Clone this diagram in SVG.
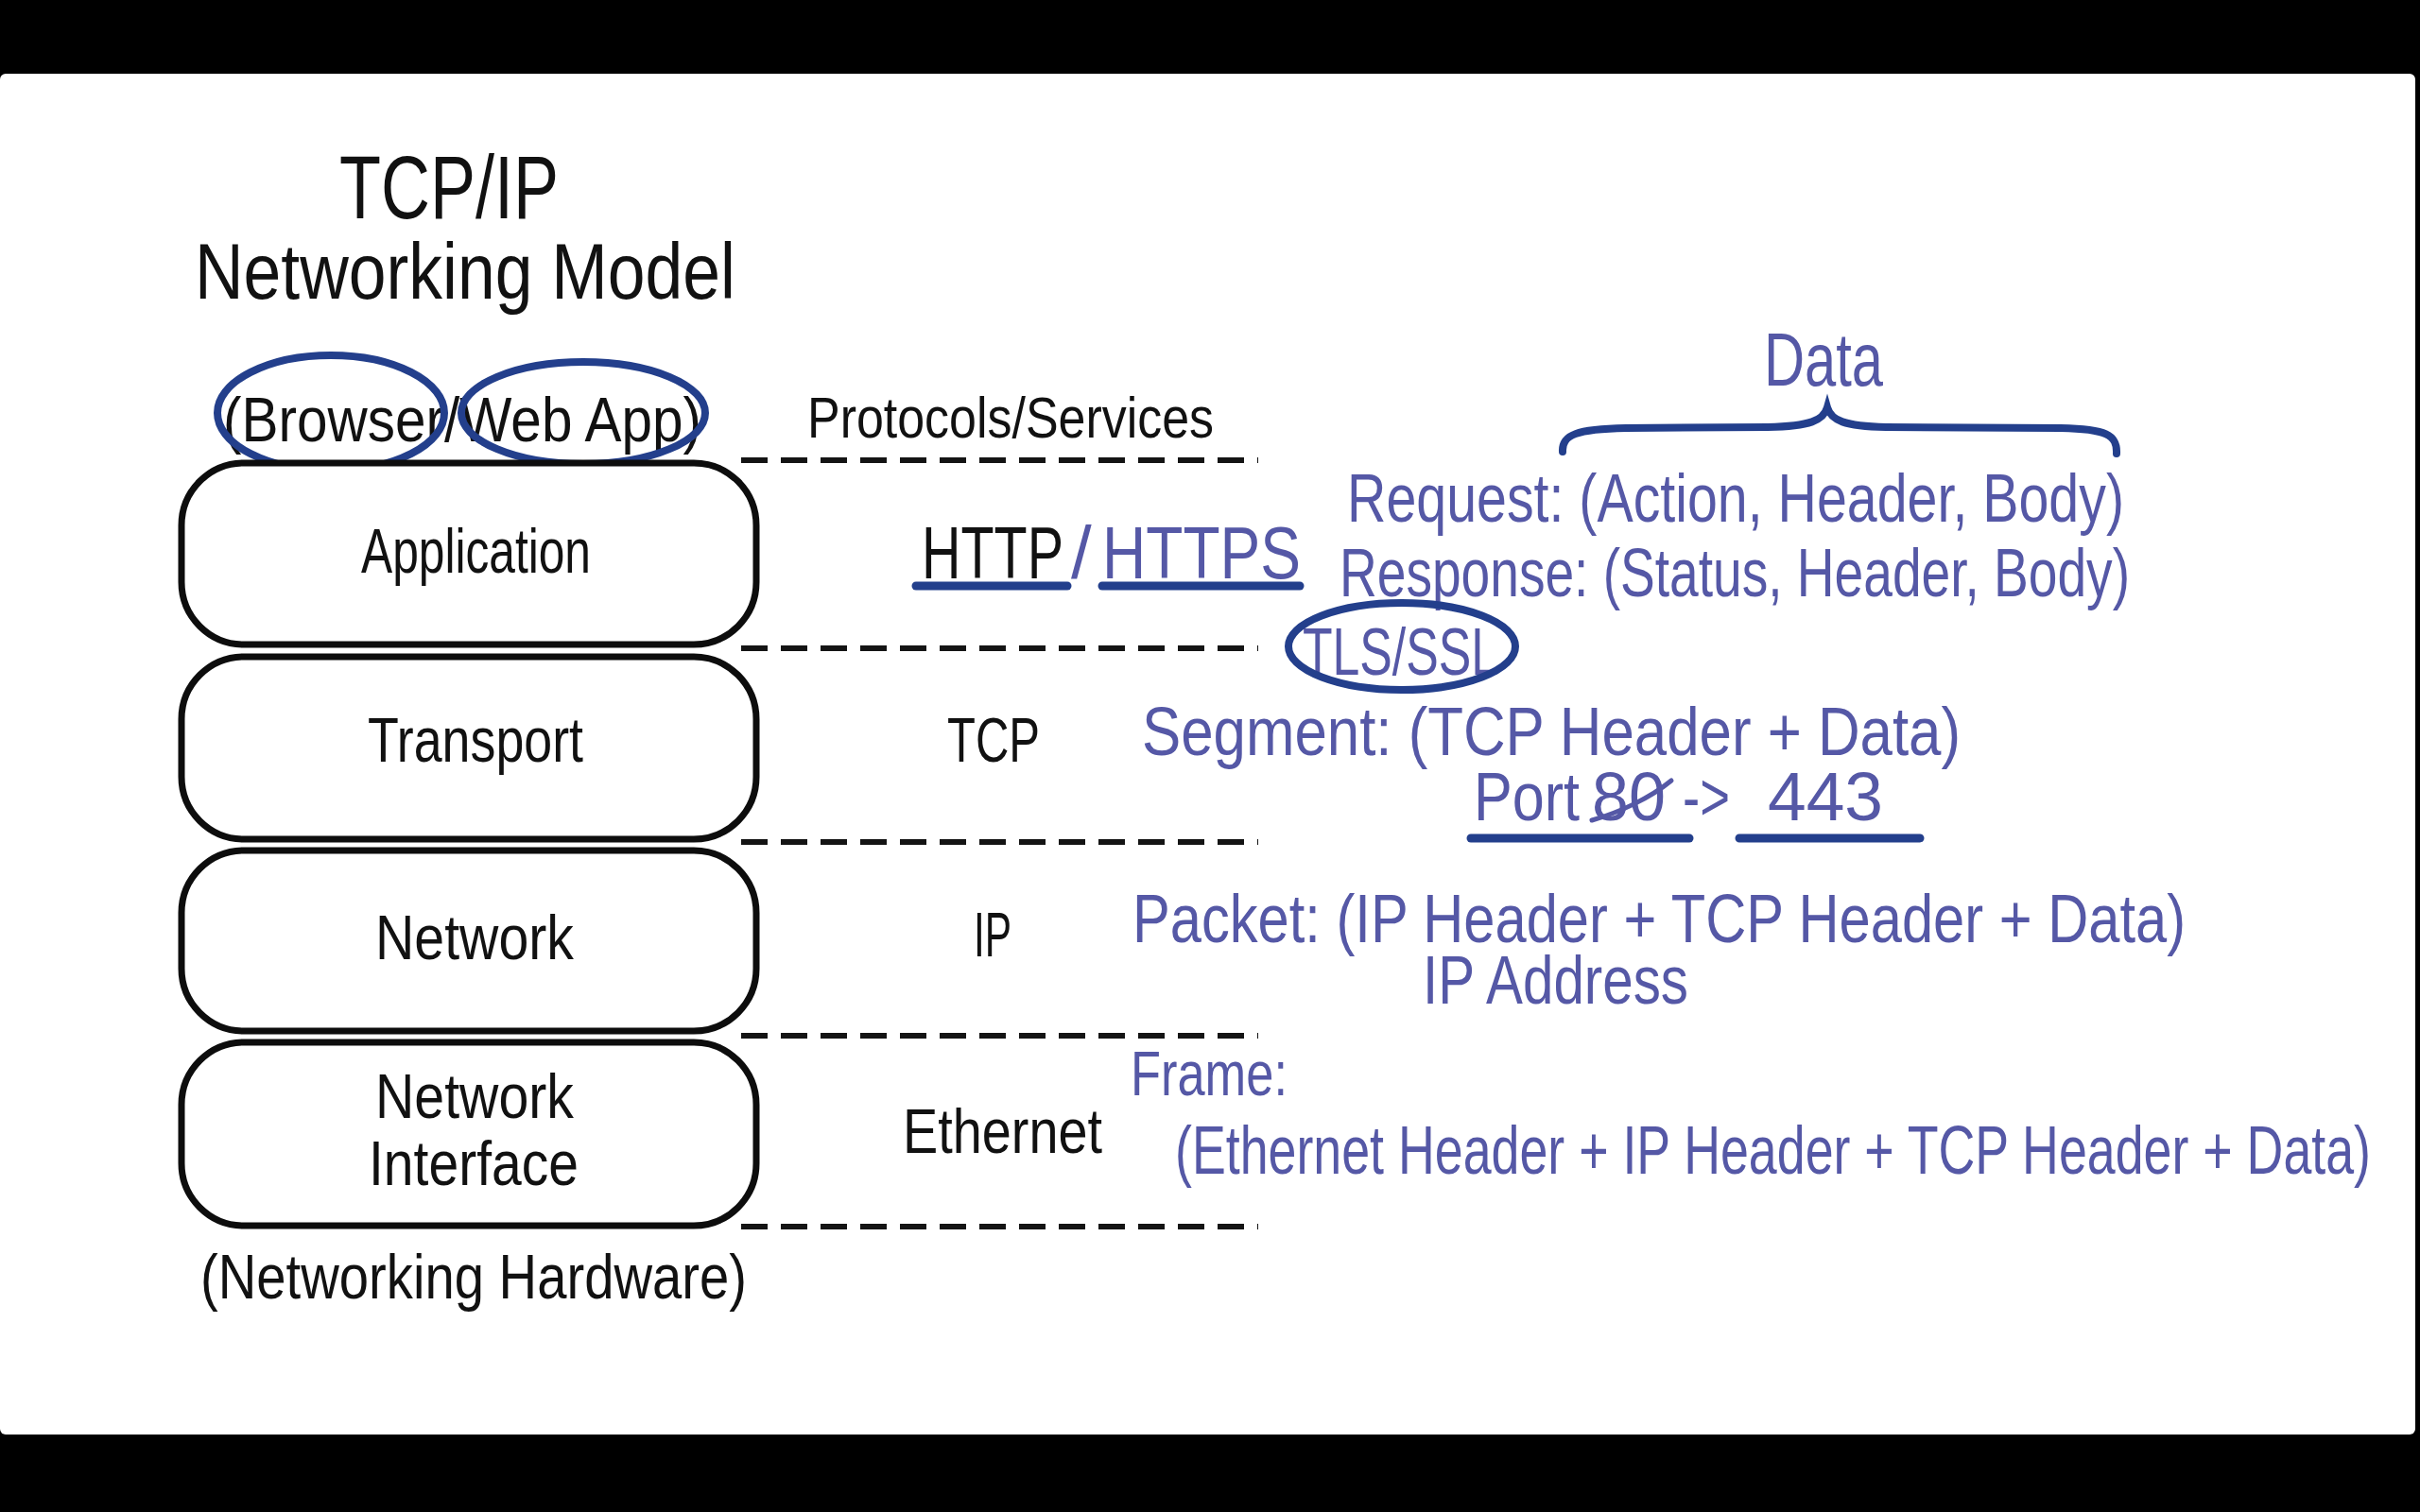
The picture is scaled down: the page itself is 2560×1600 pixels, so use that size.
<svg xmlns="http://www.w3.org/2000/svg" width="2560" height="1600" viewBox="0 0 2560 1600">
<defs>
<style>
.k{font-family:"Liberation Sans","DejaVu Sans",sans-serif;fill:#111;}
.b{font-family:"Liberation Sans","DejaVu Sans",sans-serif;fill:#5558a6;}
.box{fill:#fff;stroke:#0d0d0d;stroke-width:7;}
.sep{stroke:#141414;stroke-width:6;stroke-dasharray:28 14;fill:none;}
.ink{fill:none;stroke:#233f8c;stroke-width:8;stroke-linecap:round;}
.ul{fill:none;stroke:#233f8c;stroke-width:9;stroke-linecap:round;}
</style>
</defs>
<rect x="0" y="0" width="2560" height="1600" fill="#000"/>
<rect x="0" y="78" width="2555" height="1440" rx="6" fill="#fff"/>

<g id="title">
<text class="k" x="359" y="231" font-size="95" textLength="232" lengthAdjust="spacingAndGlyphs">TCP/IP</text>
<text class="k" x="206" y="316" font-size="84" textLength="572" lengthAdjust="spacingAndGlyphs">Networking Model</text>
</g>

<g id="clients">
<text class="k" x="236" y="467" font-size="66" textLength="506" lengthAdjust="spacingAndGlyphs">(Browser/Web App)</text>
<ellipse class="ink" cx="350" cy="437" rx="120" ry="61"/>
<ellipse class="ink" cx="617" cy="437" rx="129" ry="54"/>
</g>

<g id="protocols-header">
<text class="k" x="854" y="463" font-size="62" textLength="430" lengthAdjust="spacingAndGlyphs">Protocols/Services</text>
</g>

<g id="separators">
<line class="sep" x1="784" y1="487" x2="1331" y2="487"/>
<line class="sep" x1="784" y1="686" x2="1331" y2="686"/>
<line class="sep" x1="784" y1="891" x2="1331" y2="891"/>
<line class="sep" x1="784" y1="1096" x2="1331" y2="1096"/>
<line class="sep" x1="784" y1="1298" x2="1331" y2="1298"/>
</g>

<g id="layer-application">
<rect class="box" x="192" y="490" width="608" height="192" rx="66"/>
<text class="k" x="382" y="606" font-size="66" textLength="243" lengthAdjust="spacingAndGlyphs">Application</text>
</g>
<g id="layer-transport">
<rect class="box" x="192" y="695" width="608" height="193" rx="66"/>
<text class="k" x="389" y="806" font-size="66" textLength="228" lengthAdjust="spacingAndGlyphs">Transport</text>
</g>
<g id="layer-network">
<rect class="box" x="192" y="900" width="608" height="191" rx="66"/>
<text class="k" x="397" y="1015" font-size="66" textLength="210" lengthAdjust="spacingAndGlyphs">Network</text>
</g>
<g id="layer-network-interface">
<rect class="box" x="192" y="1103" width="608" height="194" rx="66"/>
<text class="k" x="397" y="1183" font-size="66" textLength="210" lengthAdjust="spacingAndGlyphs">Network</text>
<text class="k" x="390" y="1254" font-size="66" textLength="222" lengthAdjust="spacingAndGlyphs">Interface</text>
</g>
<g id="hardware">
<text class="k" x="212" y="1374" font-size="66" textLength="578" lengthAdjust="spacingAndGlyphs">(Networking Hardware)</text>
</g>

<g id="proto-http">
<text class="k" x="975" y="612" font-size="78" textLength="150" lengthAdjust="spacingAndGlyphs">HTTP</text>
<text class="b" x="1133" y="612" font-size="78">/</text>
<text class="b" x="1166" y="612" font-size="78" textLength="210" lengthAdjust="spacingAndGlyphs">HTTPS</text>
<line class="ul" x1="969" y1="620" x2="1129" y2="620"/>
<line class="ul" x1="1166" y1="620" x2="1375" y2="620"/>
</g>
<g id="proto-tcp">
<text class="k" x="1002" y="806" font-size="66" textLength="98" lengthAdjust="spacingAndGlyphs">TCP</text>
</g>
<g id="proto-ip">
<text class="k" x="1030" y="1012" font-size="66" textLength="40" lengthAdjust="spacingAndGlyphs">IP</text>
</g>
<g id="proto-ethernet">
<text class="k" x="955" y="1220" font-size="66" textLength="211" lengthAdjust="spacingAndGlyphs">Ethernet</text>
</g>

<g id="data-header">
<text class="b" x="1866" y="408" font-size="80" textLength="126" lengthAdjust="spacingAndGlyphs">Data</text>
<path class="ink" stroke-width="7" d="M1653,478 C1652,460 1668,454 1720,453 L1870,452 C1915,451 1929,445 1933,431 C1937,445 1951,451 1995,452 L2180,453 C2228,454 2240,460 2239,480"/>
</g>

<g id="data-application">
<text class="b" x="1425" y="552" font-size="72" textLength="822" lengthAdjust="spacingAndGlyphs">Request: (Action, Header, Body)</text>
<text class="b" x="1417" y="631" font-size="72" textLength="836" lengthAdjust="spacingAndGlyphs">Response: (Status, Header, Body)</text>
</g>
<g id="tls">
<text class="b" x="1378" y="714" font-size="70" textLength="207" lengthAdjust="spacingAndGlyphs">TLS/SSL</text>
<ellipse class="ink" cx="1483" cy="684" rx="120" ry="46"/>
</g>
<g id="data-transport">
<text class="b" x="1208" y="799" font-size="72" textLength="866" lengthAdjust="spacingAndGlyphs">Segment: (TCP Header + Data)</text>
<text class="b" x="1559" y="868" font-size="72" textLength="112" lengthAdjust="spacingAndGlyphs">Port</text>
<text class="b" x="1684" y="868" font-size="72" textLength="78" lengthAdjust="spacingAndGlyphs">80</text>
<path fill="none" stroke="#5558a6" stroke-width="5" stroke-linecap="round" d="M1684,868 C1712,860 1745,845 1768,826"/>
<text class="b" x="1780" y="868" font-size="72" textLength="50" lengthAdjust="spacingAndGlyphs">-&gt;</text>
<text class="b" x="1870" y="868" font-size="72" textLength="122" lengthAdjust="spacingAndGlyphs">443</text>
<line class="ul" x1="1556" y1="887" x2="1787" y2="887"/>
<line class="ul" x1="1840" y1="887" x2="2031" y2="887"/>
</g>
<g id="data-network">
<text class="b" x="1198" y="997" font-size="72" textLength="1114" lengthAdjust="spacingAndGlyphs">Packet: (IP Header + TCP Header + Data)</text>
<text class="b" x="1505" y="1062" font-size="72" textLength="281" lengthAdjust="spacingAndGlyphs">IP Address</text>
</g>
<g id="data-link">
<text class="b" x="1196" y="1159" font-size="66" textLength="166" lengthAdjust="spacingAndGlyphs">Frame:</text>
<text class="b" x="1243" y="1242" font-size="72" textLength="1265" lengthAdjust="spacingAndGlyphs">(Ethernet Header + IP Header + TCP Header + Data)</text>
</g>
</svg>
